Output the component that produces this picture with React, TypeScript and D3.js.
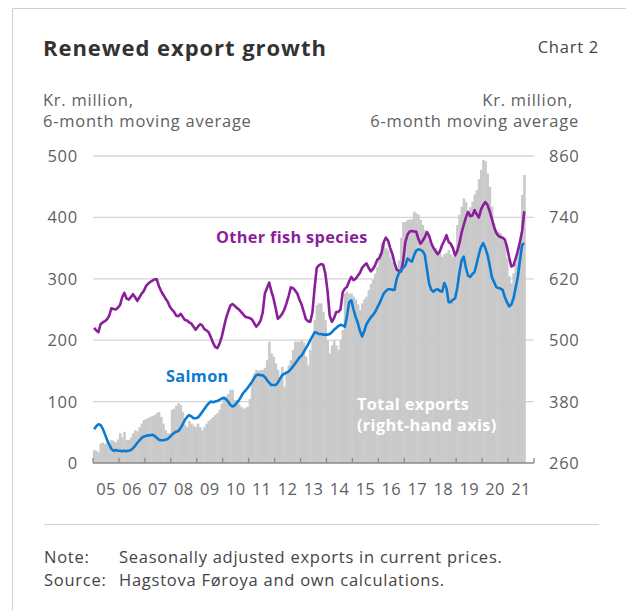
import React from "react";
import * as d3 from "d3";

const yearLabels = ["05","06","07","08","09","10","11","12","13","14","15","16","17","18","19","20","21"];
const leftTicks = [0, 100, 200, 300, 400, 500];
const rightTicks = [260, 380, 500, 620, 740, 860];

// Monthly, Jan 2005 - Aug 2021, kr. million, 6-month moving average
const salmon = [
  55, 60, 63, 62, 56, 47, 38, 30, 23, 20, 21, 20,
  20, 19, 20, 19, 20, 21, 24, 28, 33, 37, 41, 43,
  44, 45, 45, 46, 44, 41, 38, 37, 37, 38, 39, 42,
  46, 49, 51, 52, 57, 63, 70, 75, 78, 76, 73, 73,
  74, 78, 83, 88, 93, 97, 100, 99, 100, 101, 103, 105,
  106, 104, 100, 95, 92, 94, 98, 102, 108, 114, 118, 122,
  127, 132, 138, 143, 144, 143, 143, 140, 135, 131, 127, 127,
  127, 131, 137, 143, 145, 147, 149, 153, 157, 162, 167, 172,
  175, 181, 187, 193, 200, 206, 213, 212, 210, 210, 209, 209,
  209, 210, 213, 217, 220, 223, 225, 224, 222, 240, 262, 265,
  250, 238, 228, 215, 206, 215, 226, 232, 237, 241, 246, 253,
  260, 268, 276, 280, 283, 283, 282, 282, 300, 309, 314, 318,
  322, 333, 330, 328, 338, 346, 348, 347, 345, 339, 315, 292,
  282, 279, 282, 283, 280, 279, 293, 285, 262, 262, 266, 268,
  285, 310, 330, 336, 318, 305, 303, 308, 311, 325, 340, 352,
  358, 350, 339, 322, 303, 295, 287, 285, 284, 282, 270, 262,
  255, 258, 268, 285, 303, 330, 355, 358,
];

const otherFish = [
  220, 216, 213, 226, 229, 231, 234, 240, 252, 251, 250, 253,
  257, 270, 277, 268, 266, 270, 275, 270, 264, 270, 276, 280,
  288, 292, 295, 297, 299, 299, 288, 280, 274, 268, 263, 255,
  250, 246, 240, 239, 243, 238, 233, 232, 229, 227, 222, 217,
  222, 226, 224, 218, 216, 213, 205, 196, 189, 187, 194, 205,
  220, 235, 246, 256, 259, 256, 253, 250, 246, 242, 238, 237,
  236, 234, 228, 222, 226, 232, 245, 276, 285, 294, 280, 268,
  252, 235, 238, 243, 250, 260, 272, 286, 285, 281, 276, 266,
  258, 246, 234, 231, 230, 245, 285, 318, 322, 324, 323, 308,
  280, 240, 230, 236, 246, 246, 250, 278, 284, 287, 296, 303,
  298, 300, 305, 310, 318, 322, 325, 318, 312, 316, 322, 331,
  334, 342, 360, 367, 362, 350, 340, 326, 315, 313, 312, 330,
  360, 372, 377, 378, 377, 377, 365, 357, 362, 368, 376, 370,
  358, 350, 345, 340, 345, 355, 362, 371, 360, 357, 350, 338,
  345, 358, 375, 388, 400, 409, 402, 403, 412, 405, 400, 413,
  420, 425, 420, 410, 398, 385, 375, 370, 368, 367, 364, 352,
  335, 320, 322, 333, 345, 360, 378, 410,
];

const totalExports = [
  285, 284, 281, 298, 300, 297, 302, 296, 305, 303, 300, 306,
  318, 310, 321, 305, 305, 310, 318, 324, 322, 330, 337, 344,
  346, 348, 350, 352, 354, 358, 360, 350, 337, 324, 318, 318,
  364, 366, 372, 377, 373, 360, 335, 330, 342, 337, 333, 330,
  337, 330, 324, 330, 337, 342, 346, 350, 354, 357, 364, 376,
  390, 390, 395, 403, 403, 383, 383, 375, 370, 366, 368, 370,
  385, 416, 435, 442, 440, 442, 442, 446, 461, 497, 474, 468,
  455, 442, 422, 448, 409, 440, 451, 461, 481, 497, 497, 497,
  500, 495, 468, 451, 481, 500, 539, 569, 572, 572, 555, 539,
  500, 474, 490, 500, 490, 481, 500, 520, 592, 595, 590, 592,
  585, 580, 570, 559, 572, 580, 585, 598, 610, 618, 630, 643,
  670, 689, 692, 680, 676, 663, 653, 645, 640, 656, 700, 731,
  731, 735, 736, 736, 751, 748, 745, 735, 725, 715, 705, 696,
  686, 683, 680, 675, 670, 663, 668, 670, 676, 668, 663, 672,
  725, 745, 761, 777, 770, 751, 760, 771, 785, 793, 815, 833,
  852, 850, 826, 800, 761, 728, 715, 712, 709, 700, 690, 660,
  625, 611, 631, 650, 670, 684, 784, 823,
];

const FONT = "'Open Sans', 'Noto Sans', sans-serif";
const TEXT = "#5f5f5f";
const BLUE = "#0a7bd2";
const PURPLE = "#8b1e9b";
const GREY = "#c9c9c9";
const FS = 16.5;
const LS = 0.75;

export default function App() {
  const left = 93, right = 534, top = 156, bottom = 463;
  const nMonths = 204;
  const x = d3.scaleLinear().domain([0, nMonths]).range([left, right]);
  const yL = d3.scaleLinear().domain([0, 500]).range([bottom, top]);
  const yR = d3.scaleLinear().domain([260, 860]).range([bottom, top]);

  const line = (vals: number[]) =>
    d3.line<number>().x((_, i) => x(i + 0.5)).y((v) => yL(v))(vals) || "";

  const bw = x(1) - x(0);
  const body = { fontSize: FS, letterSpacing: LS } as const;
  const bold = { fontSize: 16.3, letterSpacing: 0.35, fontWeight: 700 } as const;

  return (
    <div style={{ position: "absolute", left: 0, top: 0 }}>
      <svg width={626} height={610} style={{ display: "block", fontFamily: FONT }}>
        <rect x={0} y={0} width={626} height={610} fill="#fff" />
        {/* frame */}
        <line x1={12.5} y1={8.5} x2={626} y2={8.5} stroke="#cfcfcf" strokeWidth={1} />
        <line x1={12.5} y1={8.5} x2={12.5} y2={610} stroke="#cfcfcf" strokeWidth={1} />

        <text x={43} y={56} fontSize={22} fontWeight={700} letterSpacing={0.95} fill="#333">Renewed export growth</text>
        <text x={599} y={53} {...body} fill="#444" textAnchor="end">Chart 2</text>

        <text x={43} y={106} {...body} fill={TEXT}>Kr. million,</text>
        <text x={43} y={127} {...body} fill={TEXT}>6-month moving average</text>
        <text x={573} y={106} {...body} fill={TEXT} textAnchor="end">Kr. million,</text>
        <text x={579} y={127} {...body} fill={TEXT} textAnchor="end">6-month moving average</text>

        {/* gridlines */}
        {leftTicks.filter((t) => t > 0).map((t) => (
          <line key={t} x1={left} x2={right} y1={yL(t)} y2={yL(t)} stroke="#d4d4d4" strokeWidth={1.3} />
        ))}

        {/* bars */}
        {totalExports.map((v, i) => (
          <rect key={i} x={x(i)} y={yR(v)} width={bw + 0.4} height={bottom - yR(v)} fill={GREY} />
        ))}

        {/* axis */}
        <line x1={left} x2={right} y1={bottom} y2={bottom} stroke="#8a8a8a" strokeWidth={1.3} />
        {d3.range(0, 18).map((k) => (
          <line key={k} x1={x(k * 12)} x2={x(k * 12)} y1={bottom} y2={bottom - 5} stroke="#8a8a8a" strokeWidth={1.3} />
        ))}

        {/* lines */}
        <path d={line(otherFish)} fill="none" stroke={PURPLE} strokeWidth={2.6} strokeLinejoin="round" />
        <path d={line(salmon)} fill="none" stroke={BLUE} strokeWidth={2.6} strokeLinejoin="round" />

        {/* tick labels */}
        {leftTicks.map((t) => (
          <text key={t} x={78} y={yL(t)} dy="0.36em" {...body} fill={TEXT} textAnchor="end">{t}</text>
        ))}
        {rightTicks.map((t) => (
          <text key={t} x={549} y={yR(t)} dy="0.36em" {...body} fill={TEXT}>{t}</text>
        ))}
        {yearLabels.map((lab, k) => (
          <text key={lab} x={x(k * 12 + 6)} y={495} {...body} letterSpacing={0.3} fill={TEXT} textAnchor="middle">{lab}</text>
        ))}

        {/* series labels */}
        <text x={216} y={243} {...bold} fill={PURPLE}>Other fish species</text>
        <text x={166} y={382} {...bold} fill={BLUE}>Salmon</text>
        <text x={357} y={410} {...bold} fill="#fff">Total exports</text>
        <text x={357} y={431} {...bold} fill="#fff">(right-hand axis)</text>

        {/* footer */}
        <line x1={44} x2={599} y1={524.5} y2={524.5} stroke="#cfcfcf" strokeWidth={1.2} />
        <text x={44} y={563} {...body} fill="#444">Note:</text>
        <text x={119} y={563} {...body} fill="#444">Seasonally adjusted exports in current prices.</text>
        <text x={44} y={586} {...body} fill="#444">Source:</text>
        <text x={119} y={586} {...body} fill="#444">Hagstova Føroya and own calculations.</text>
      </svg>
    </div>
  );
}
